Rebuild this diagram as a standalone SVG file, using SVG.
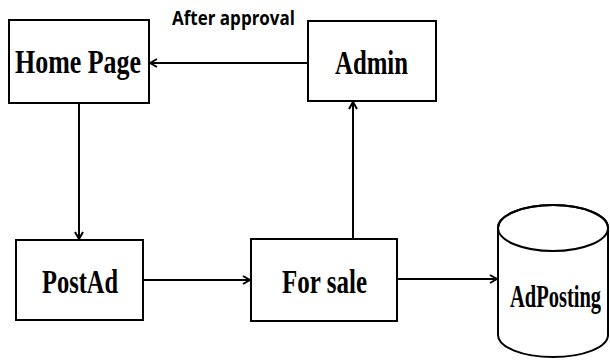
<svg xmlns="http://www.w3.org/2000/svg" width="610" height="360" viewBox="0 0 610 360">
<style>
.box{fill:#fff;stroke:#000;stroke-width:2}
.lbl{font-family:"Liberation Serif",serif;font-weight:bold;font-size:34px;fill:#000}
.edge{stroke:#000;stroke-width:2;fill:none;marker-end:url(#arr)}
.note{font-family:"Open Sans","Liberation Sans",sans-serif;font-weight:bold;font-size:20px;fill:#000}
</style>
<defs>
<marker id="arr" viewBox="0 0 10 10" refX="9" refY="5" markerWidth="10" markerHeight="10" markerUnits="userSpaceOnUse" orient="auto">
<polyline points="2,1 9,5 2,9" fill="none" stroke="#000" stroke-width="2"/>
</marker>
</defs>
<g id="connectors">
<line class="edge" x1="308" y1="63" x2="150" y2="63"/>
<line class="edge" x1="79" y1="103" x2="79" y2="239"/>
<line class="edge" x1="143" y1="280" x2="250" y2="280"/>
<line class="edge" x1="353" y1="239" x2="353" y2="102"/>
<line class="edge" x1="397" y1="279" x2="497" y2="279"/>
<text class="note" x="172" y="25" textLength="123" lengthAdjust="spacingAndGlyphs">After approval</text>
</g>
<g id="home">
<rect class="box" x="9" y="20" width="140" height="83"/>
<text class="lbl" x="15" y="73" textLength="126" lengthAdjust="spacingAndGlyphs">Home Page</text>
</g>
<g id="admin">
<rect class="box" x="308" y="21" width="128" height="80"/>
<text class="lbl" x="335" y="74" textLength="73" lengthAdjust="spacingAndGlyphs">Admin</text>
</g>
<g id="postad">
<rect class="box" x="16" y="240" width="127" height="80"/>
<text class="lbl" x="42" y="293" textLength="76" lengthAdjust="spacingAndGlyphs">PostAd</text>
</g>
<g id="forsale">
<rect class="box" x="251" y="239" width="146" height="82"/>
<text class="lbl" x="282" y="293" textLength="85" lengthAdjust="spacingAndGlyphs">For sale</text>
</g>
<g id="adposting">
<path class="box" d="M498,228 L498,335 A55,22 0 0 0 608,335 L608,228 A55,23 0 0 0 498,228 Z"/>
<ellipse cx="553" cy="228" rx="55" ry="23" fill="none" stroke="#000" stroke-width="2"/>
<text class="lbl" transform="translate(510,307) scale(1,1.5)" x="0" y="0" style="font-size:20.5px">AdPosting</text>
</g>
</svg>
